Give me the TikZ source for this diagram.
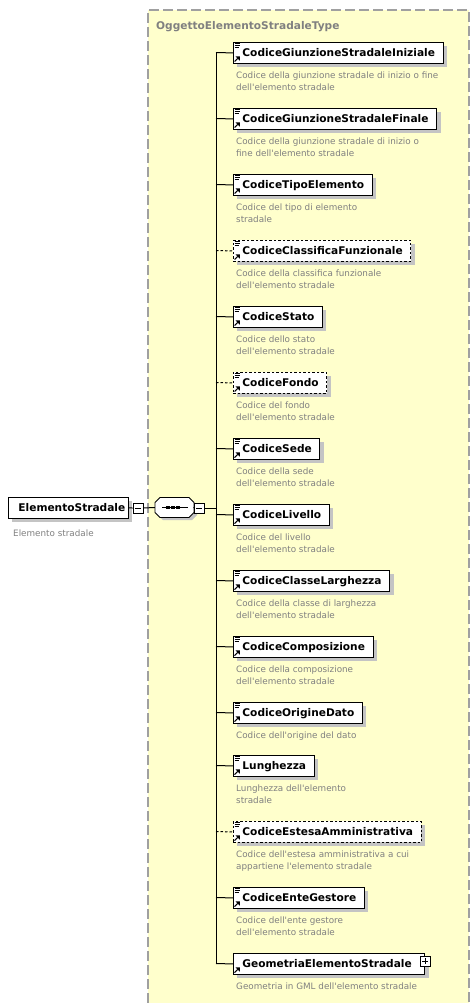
\documentclass[tikz,border=0pt]{standalone}
\usepackage{fontspec}
\setmainfont{DejaVu Sans}
\usetikzlibrary{shadows}
\definecolor{bgyellow}{HTML}{FFFFCC}
\definecolor{shadecol}{HTML}{C4C4C4}
\definecolor{desccol}{HTML}{808080}
\definecolor{bordercol}{HTML}{A0A0A0}
\newcommand\ap{\textquotesingle}
\tikzset{
  elbox/.style={draw=black, line width=0.9pt, fill=white, minimum height=21pt, inner sep=0pt,
    text height=9pt, text depth=1pt, font=\fontsize{10.6}{12}\selectfont\bfseries,
    drop shadow={shadow xshift=4pt, shadow yshift=-4pt, fill=shadecol, opacity=1}},
  opt/.style={dash pattern=on 2.5pt off 2pt},
  conn/.style={line width=1pt, black},
  descnode/.style={inner sep=0pt, align=left, text=desccol, font=\fontsize{8.8}{12.5}\selectfont},
  pm/.style={draw=black, line width=0.8pt, fill=white, minimum size=10pt, inner sep=0pt},
  icon/.style={line width=0.8pt, black}
}
\newcommand\docicon[1]{\draw[icon] (234.5,{#1+1.6}) -- (240,{#1+1.6}) (234.5,{#1+3.4}) -- (240,{#1+3.4}) (234.5,{#1+5.2}) -- (238.5,{#1+5.2});}
\newcommand\refarrow[1]{\draw[line width=1.1pt] (234.6,{#1+19.6}) -- (237.8,{#1+16.4});
  \fill (235.6,{#1+14.4}) -- (239.8,{#1+14.4}) -- (239.8,{#1+18.6}) -- cycle;}
\newcommand\elembox[5]{%
  \node[elbox,#4,anchor=north west] (#1) at (233,#2) {\hspace*{9pt}#3\hspace*{8pt}};
  \coordinate (#1j) at (216,{#2+10.5});
  \draw[conn,#4] (#1j) -- (#1.west);
  \node[descnode,anchor=north west] (#1d) at (236,{#2+27}) {\rule{0pt}{9pt}#5};
  \refarrow{#2}
}
\begin{document}
\begin{tikzpicture}[x=1pt,y=-1pt]
\useasboundingbox (0,0) rectangle (472,1003);
% container
\fill[bgyellow] (148,10) rectangle (469,1003);
\draw[bordercol, line width=1.6pt, dash pattern=on 10pt off 4pt] (148,1003) -- (148,10) -- (469,10) -- (469,1003);
\node[anchor=base west, inner sep=0pt, text=desccol, font=\fontsize{10.6}{12}\selectfont\bfseries] (title) at (156,29.5) {OggettoElementoStradaleType};

% root element
\node[elbox, anchor=north west] (root) at (8,497) {\hspace*{10pt}ElementoStradale\hspace*{3pt}};
\node[descnode, anchor=base west] (rootd) at (13,536) {Elemento stradale};
\node[pm] (m1) at (138,508) {};
\draw[line width=0.8pt] ([xshift=2.2pt]m1.west) -- ([xshift=-2.2pt]m1.east);

% sequence compositor
\fill[shadecol] (163,500) -- (192,500) -- (197,505) -- (197,515) -- (192,520) -- (163,520) -- (158,515) -- (158,505) -- cycle;
\filldraw[fill=white, draw=black, line width=0.9pt] (160,497.5) -- (189,497.5) -- (194,502.5) -- (194,512.5) -- (189,517.5) -- (160,517.5) -- (155,512.5) -- (155,502.5) -- cycle;
\node[inner sep=0pt, minimum width=39pt, minimum height=20pt] (seq) at (174.5,507.5) {};
\draw[line width=1pt] (162,507.5) -- (188,507.5);
\foreach \dx in {168,173,178} \fill (\dx-1.7,506) rectangle (\dx+1.7,509.2);
\node[pm] (m2) at (199,508) {};
\draw[line width=0.8pt] ([xshift=2.2pt]m2.west) -- ([xshift=-2.2pt]m2.east);
\coordinate (bus) at (216,508);
\draw[conn] (root.east) -- (m1.west);
\draw[conn] (m1.east) -- (seq.west);
\draw[conn] (seq.east) -- (m2.west);
\draw[conn] (m2.east) -- (bus);

% children
\elembox{e1}{42}{CodiceGiunzioneStradaleIniziale}{solid}{Codice della giunzione stradale di inizio o fine\\dell\ap elemento stradale}
\elembox{e2}{108}{CodiceGiunzioneStradaleFinale}{solid}{Codice della giunzione stradale di inizio o\\fine dell\ap elemento stradale}
\elembox{e3}{174}{CodiceTipoElemento}{solid}{Codice del tipo di elemento\\stradale}
\elembox{e4}{240}{CodiceClassificaFunzionale}{opt}{Codice della classifica funzionale\\dell\ap elemento stradale}
\elembox{e5}{306}{CodiceStato}{solid}{Codice dello stato\\dell\ap elemento stradale}
\elembox{e6}{372}{CodiceFondo}{opt}{Codice del fondo\\dell\ap elemento stradale}
\elembox{e7}{438}{CodiceSede}{solid}{Codice della sede\\dell\ap elemento stradale}
\elembox{e8}{504}{CodiceLivello}{solid}{Codice del livello\\dell\ap elemento stradale}
\elembox{e9}{570}{CodiceClasseLarghezza}{solid}{Codice della classe di larghezza\\dell\ap elemento stradale}
\elembox{e10}{636}{CodiceComposizione}{solid}{Codice della composizione\\dell\ap elemento stradale}
\elembox{e11}{702}{CodiceOrigineDato}{solid}{Codice dell\ap origine del dato}
\elembox{e12}{755}{Lunghezza}{solid}{Lunghezza dell\ap elemento\\stradale}
\elembox{e13}{821}{CodiceEstesaAmministrativa}{opt}{Codice dell\ap estesa amministrativa a cui\\appartiene l\ap elemento stradale}
\elembox{e14}{887}{CodiceEnteGestore}{solid}{Codice dell\ap ente gestore\\dell\ap elemento stradale}
\node[elbox,anchor=north west] (e15) at (233,953) {\hspace*{9pt}GeometriaElementoStradale\hspace*{13pt}};
\coordinate (e15j) at (216,963.5);
\draw[conn] (e15j) -- (e15.west);
\node[descnode,anchor=north west] (e15d) at (236,980) {\rule{0pt}{9pt}Geometria in GML dell\ap elemento stradale};
\refarrow{953}
\node[pm] (p15) at ([yshift=3pt]e15.east) {};
\draw[line width=0.8pt] ([xshift=2.2pt]p15.west) -- ([xshift=-2.2pt]p15.east) ([yshift=2.2pt]p15.south) -- ([yshift=-2.2pt]p15.north);

\foreach \t in {42,108,174,240,306,372,438,504,570,636,702,755,821,887} {\docicon{\t}}

% bus line
\draw[conn] (e1j) -- (e15j);
\end{tikzpicture}
\end{document}
